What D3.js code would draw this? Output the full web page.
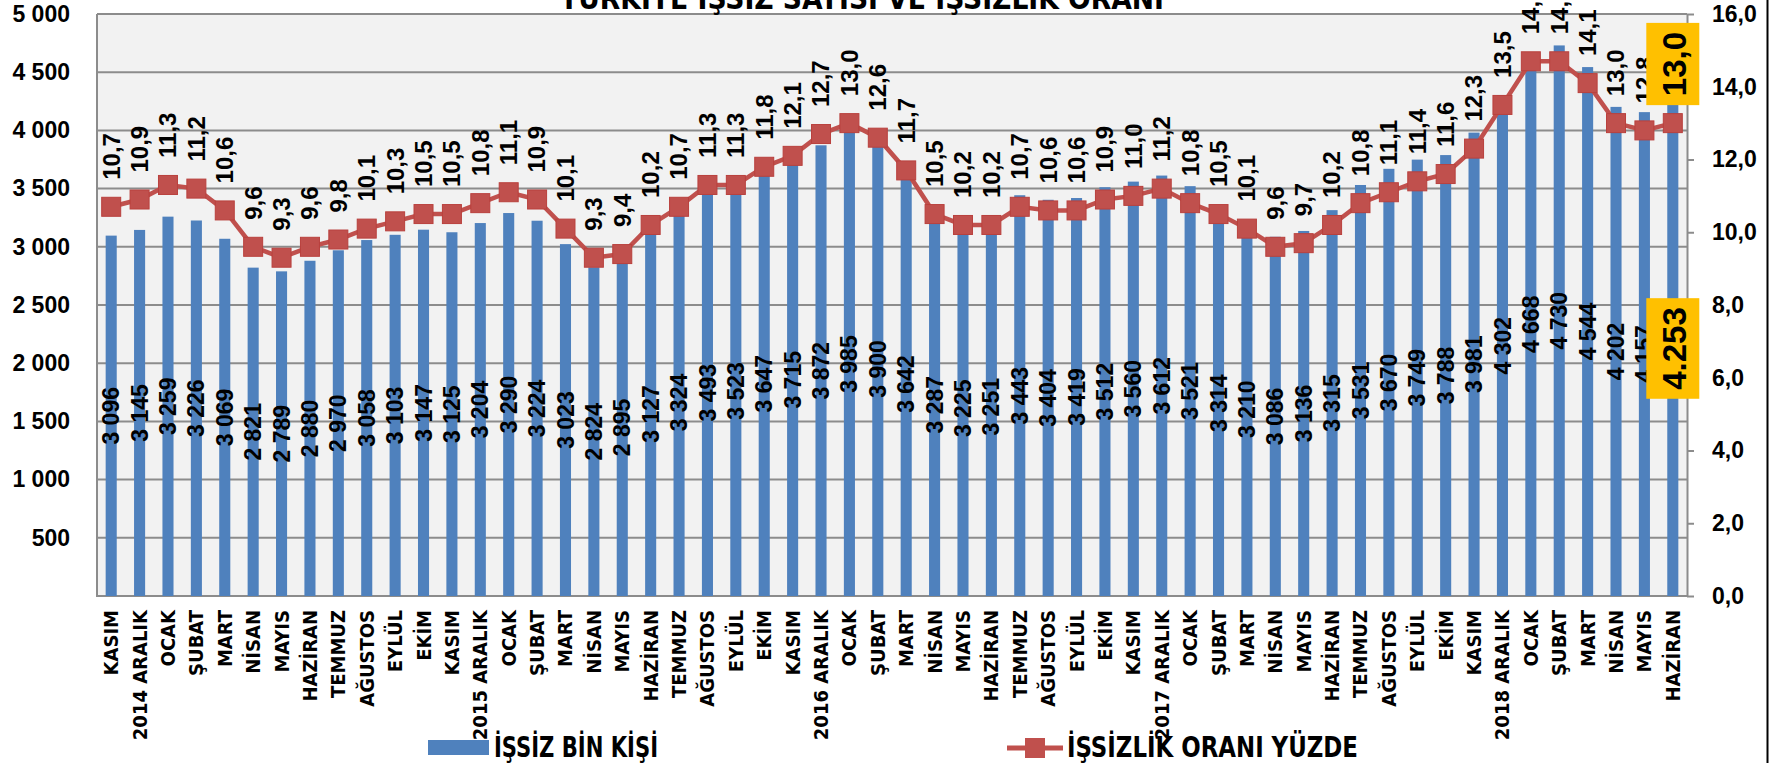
<!DOCTYPE html>
<html>
<head>
<meta charset="utf-8">
<script src="https://cdn.jsdelivr.net/npm/d3@7"></script>
<style>
  body { margin: 0; background: #fff; }
  svg { display: block; }
  .lbl { font-family: "Liberation Sans", Arial, sans-serif; font-weight: bold; fill: #000; }
  .narrow { font-family: "Liberation Sans Narrow", "DejaVu Sans Condensed", "Liberation Sans", sans-serif; font-weight: bold; fill: #000; }
</style>
</head>
<body>
<div id="chart"></div>
<script>

// months (Excel's two-level labels flattened as shown)
var categories = [
  "KASIM", "2014 ARALIK", "OCAK", "ŞUBAT", "MART", "NİSAN", "MAYIS", "HAZİRAN", "TEMMUZ", "AĞUSTOS", "EYLÜL", "EKİM",
  "KASIM", "2015 ARALIK", "OCAK", "ŞUBAT", "MART", "NİSAN", "MAYIS", "HAZİRAN", "TEMMUZ", "AĞUSTOS", "EYLÜL", "EKİM",
  "KASIM", "2016 ARALIK", "OCAK", "ŞUBAT", "MART", "NİSAN", "MAYIS", "HAZİRAN", "TEMMUZ", "AĞUSTOS", "EYLÜL", "EKİM",
  "KASIM", "2017 ARALIK", "OCAK", "ŞUBAT", "MART", "NİSAN", "MAYIS", "HAZİRAN", "TEMMUZ", "AĞUSTOS", "EYLÜL", "EKİM",
  "KASIM", "2018 ARALIK", "OCAK", "ŞUBAT", "MART", "NİSAN", "MAYIS", "HAZİRAN"
];

// işsiz, bin kişi
var unemployed = [
  3096, 3145, 3259, 3226, 3069, 2821, 2789, 2880, 2970, 3058, 3103, 3147,
  3125, 3204, 3290, 3224, 3023, 2824, 2895, 3127, 3324, 3493, 3523, 3647,
  3715, 3872, 3985, 3900, 3642, 3287, 3225, 3251, 3443, 3404, 3419, 3512,
  3560, 3612, 3521, 3314, 3210, 3086, 3136, 3315, 3531, 3670, 3749, 3788,
  3981, 4302, 4668, 4730, 4544, 4202, 4157, 4253
];

// işsizlik oranı, yüzde
var rates = [
  10.7, 10.9, 11.3, 11.2, 10.6, 9.6, 9.3, 9.6, 9.8, 10.1, 10.3, 10.5,
  10.5, 10.8, 11.1, 10.9, 10.1, 9.3, 9.4, 10.2, 10.7, 11.3, 11.3, 11.8,
  12.1, 12.7, 13.0, 12.6, 11.7, 10.5, 10.2, 10.2, 10.7, 10.6, 10.6, 10.9,
  11.0, 11.2, 10.8, 10.5, 10.1, 9.6, 9.7, 10.2, 10.8, 11.1, 11.4, 11.6,
  12.3, 13.5, 14.7, 14.7, 14.1, 13.0, 12.8, 13.0
];

var leftTicks = [500, 1000, 1500, 2000, 2500, 3000, 3500, 4000, 4500, 5000];
var rightTicks = [0, 2, 4, 6, 8, 10, 12, 14, 16];

var chartTitle = "TÜRKİYE İŞSİZ SAYISI VE İŞSİZLİK ORANI";
var barName = "İŞSİZ BİN KİŞİ";
var lineName = "İŞSİZLİK ORANI YÜZDE";

var trLocale = d3.formatLocale({ decimal: ",", thousands: " ", grouping: [3], currency: ["", ""] });
var fmtCount = trLocale.format(",d");
var fmtRate = trLocale.format(".1f");
var fmtDot = d3.formatLocale({ decimal: ",", thousands: ".", grouping: [3], currency: ["", ""] }).format(",d");


/*
 * ComboChart - bars on the left axis, line on the right axis
 */

ComboChart = function(_parentElement){
  this.parentElement = _parentElement;
  this.initVis();
}

ComboChart.prototype.initVis = function(){
  var vis = this;

  vis.fullW = 1774;
  vis.fullH = 763;
  vis.margin = { top: 14, right: 87, bottom: 167, left: 97 };
  vis.width = vis.fullW - vis.margin.left - vis.margin.right;
  vis.height = vis.fullH - vis.margin.top - vis.margin.bottom;

  vis.root = d3.select("#" + vis.parentElement).append("svg")
    .attr("width", vis.fullW)
    .attr("height", vis.fullH);

  vis.svg = vis.root.append("g")
    .attr("transform", "translate(" + vis.margin.left + "," + vis.margin.top + ")");

  // scales
  vis.x = d3.scaleBand()
    .domain(d3.range(categories.length))
    .range([0, vis.width])
    .paddingInner(0.61)
    .paddingOuter(0.305);

  vis.yLeft = d3.scaleLinear().domain([0, 5000]).range([vis.height, 0]);
  vis.yRight = d3.scaleLinear().domain([0, 16]).range([vis.height, 0]);

  vis.updateVis();
}

ComboChart.prototype.updateVis = function(){
  var vis = this;
  var cx = function(i){ return vis.x(i) + vis.x.bandwidth() / 2; };

  // plot area
  vis.svg.append("rect")
    .attr("width", vis.width)
    .attr("height", vis.height)
    .attr("fill", "#f2f2f2");

  vis.svg.append("g").selectAll("line")
    .data(leftTicks)
    .enter().append("line")
    .attr("x1", 0).attr("x2", vis.width)
    .attr("y1", function(d){ return vis.yLeft(d); })
    .attr("y2", function(d){ return vis.yLeft(d); })
    .attr("stroke", "#8c8c8c")
    .attr("stroke-width", 2);

  vis.svg.append("path")
    .attr("d", "M0,0V" + vis.height + "H" + vis.width)
    .attr("fill", "none")
    .attr("stroke", "#8c8c8c")
    .attr("stroke-width", 2);

  // axes
  var leftAxis = d3.axisLeft(vis.yLeft)
    .tickValues(leftTicks)
    .tickFormat(fmtCount)
    .tickSize(0)
    .tickPadding(27);

  var gl = vis.svg.append("g").call(leftAxis);
  gl.select(".domain").remove();
  gl.selectAll("text").attr("class", "lbl").style("font-size", "23px").attr("font-family", null);

  var rightAxis = d3.axisRight(vis.yRight)
    .tickValues(rightTicks)
    .tickFormat(fmtRate)
    .tickSize(7)
    .tickSizeOuter(0)
    .tickPadding(18);

  var gr = vis.svg.append("g")
    .attr("transform", "translate(" + vis.width + ",0)")
    .call(rightAxis);
  gr.select(".domain").attr("stroke", "#8c8c8c").attr("stroke-width", 2);
  gr.selectAll(".tick line").attr("stroke", "#8c8c8c").attr("stroke-width", 2);
  gr.selectAll("text").attr("class", "lbl").style("font-size", "23px").attr("font-family", null);

  // bars
  vis.svg.append("g").selectAll("rect")
    .data(unemployed)
    .enter().append("rect")
    .attr("x", function(d, i){ return vis.x(i); })
    .attr("width", vis.x.bandwidth())
    .attr("y", function(d){ return vis.yLeft(d); })
    .attr("height", function(d){ return vis.height - vis.yLeft(d); })
    .attr("fill", "#4f81bd");

  // bar value labels, middle of the bar
  vis.svg.append("g").selectAll("text")
    .data(unemployed)
    .enter().append("text")
    .attr("class", "lbl")
    .style("font-size", "23px")
    .attr("text-anchor", "middle")
    .attr("dy", "0.35em")
    .attr("transform", function(d, i){
      return "translate(" + cx(i) + "," + (vis.yLeft(d) + vis.height) / 2 + ") rotate(-90)";
    })
    .text(function(d){ return fmtCount(d); });

  // category labels
  vis.svg.append("g").selectAll("text")
    .data(categories)
    .enter().append("text")
    .attr("class", "narrow")
    .style("font-size", "20px")
    .attr("text-anchor", "end")
    .attr("dy", "0.35em")
    .attr("transform", function(d, i){
      return "translate(" + cx(i) + "," + (vis.height + 14) + ") rotate(-90)";
    })
    .text(function(d){ return d; });

  // rate line + markers
  var line = d3.line()
    .x(function(d, i){ return cx(i); })
    .y(function(d){ return vis.yRight(d); });

  vis.svg.append("path")
    .datum(rates)
    .attr("d", line)
    .attr("fill", "none")
    .attr("stroke", "#c0504d")
    .attr("stroke-width", 4.5);

  vis.svg.append("g").selectAll("rect")
    .data(rates)
    .enter().append("rect")
    .attr("x", function(d, i){ return cx(i) - 9.5; })
    .attr("y", function(d){ return vis.yRight(d) - 9.5; })
    .attr("width", 19)
    .attr("height", 19)
    .attr("fill", "#c0504d")
    .attr("stroke", "#b9403d")
    .attr("stroke-width", 1);

  vis.svg.append("g").selectAll("text")
    .data(rates)
    .enter().append("text")
    .attr("class", "lbl")
    .style("font-size", "24px")
    .attr("text-anchor", "start")
    .attr("dy", "0.35em")
    .attr("transform", function(d, i){
      return "translate(" + cx(i) + "," + (vis.yRight(d) - 27) + ") rotate(-90)";
    })
    .text(function(d){ return fmtRate(d); });

  // highlighted latest values
  var last = rates.length - 1;
  var highlight = [
    { text: fmtRate(rates[last]), start: vis.yRight(rates[last]) - 27, anchor: "start" },
    { text: fmtDot(unemployed[last]), start: (vis.yLeft(unemployed[last]) + vis.height) / 2, anchor: "middle" }
  ];

  highlight.forEach(function(h){
    var g = vis.svg.append("g");
    var box = g.append("rect").attr("fill", "#ffc000");
    var t = g.append("text")
      .attr("class", "lbl")
      .style("font-size", "33px")
      .attr("text-anchor", h.anchor)
      .attr("dy", "0.35em")
      .attr("transform", "translate(" + (cx(last) + 2) + "," + h.start + ") rotate(-90)")
      .text(h.text);
    var len = t.node().getComputedTextLength();
    var top = h.anchor === "start" ? h.start - len : h.start - len / 2;
    box.attr("x", cx(last) - 26.5)
      .attr("width", 53)
      .attr("y", top - 9)
      .attr("height", len + 18);
  });

  // title (clipped at the top, as in the source)
  vis.root.append("text")
    .attr("class", "narrow")
    .style("font-size", "30px")
    .attr("x", 560)
    .attr("y", 9)
    .attr("textLength", 604)
    .attr("lengthAdjust", "spacingAndGlyphs")
    .text(chartTitle);

  // legend
  var lg = vis.root.append("g");
  lg.append("rect")
    .attr("x", 428).attr("y", 740)
    .attr("width", 61).attr("height", 15)
    .attr("fill", "#4f81bd");
  lg.append("text")
    .attr("class", "narrow")
    .style("font-size", "28px")
    .attr("x", 494).attr("y", 757)
    .attr("textLength", 164)
    .attr("lengthAdjust", "spacingAndGlyphs")
    .text(barName);

  lg.append("line")
    .attr("x1", 1007).attr("x2", 1063)
    .attr("y1", 748).attr("y2", 748)
    .attr("stroke", "#c0504d")
    .attr("stroke-width", 5);
  lg.append("rect")
    .attr("x", 1025).attr("y", 738)
    .attr("width", 20).attr("height", 20)
    .attr("fill", "#c0504d");
  lg.append("text")
    .attr("class", "narrow")
    .style("font-size", "28px")
    .attr("x", 1067).attr("y", 757)
    .attr("textLength", 291)
    .attr("lengthAdjust", "spacingAndGlyphs")
    .text(lineName);

  // outer frame edge on the right
  vis.root.append("line")
    .attr("x1", 1767.5).attr("x2", 1767.5)
    .attr("y1", 0).attr("y2", vis.fullH)
    .attr("stroke", "#000")
    .attr("stroke-width", 2);
}

new ComboChart("chart");

</script>
</body>
</html>
